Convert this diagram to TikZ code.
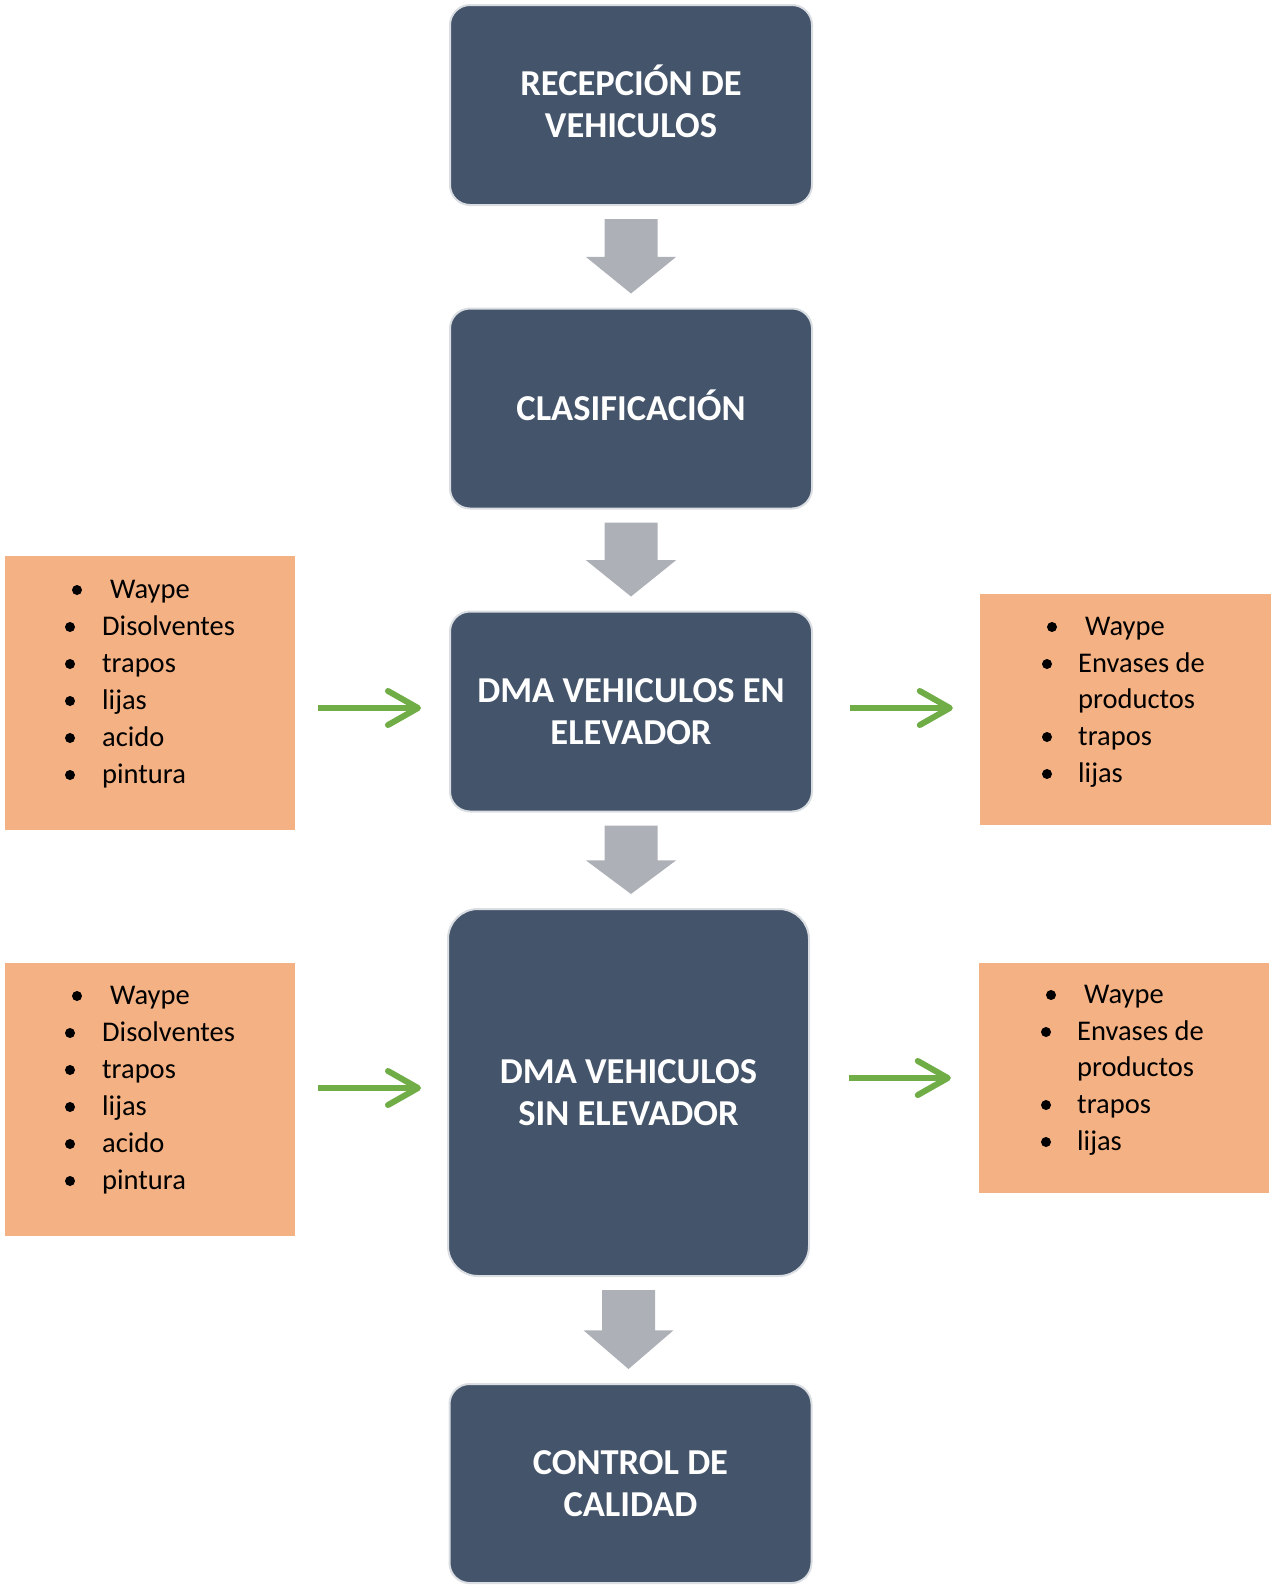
\documentclass[tikz,border=0pt]{standalone}
\usepackage{fontspec}
\setmainfont{Carlito}
\usetikzlibrary{arrows.meta,calc}
\definecolor{boxdark}{HTML}{44546A}
\definecolor{boxedge}{HTML}{DADDE2}
\definecolor{listorange}{HTML}{F4B183}
\definecolor{arrowgreen}{HTML}{70AD47}
\definecolor{arrowgray}{HTML}{ADB0B7}
\newcommand\blockarrowbetween[2]{%
  \fill[arrowgray] let \p1=($(#1.south)+(0,13)$), \p2=($(#2.north)+(0,-14)$),
    \p3=($(\p1)!0.51!(\p2)$) in
    (\x1-26.5pt,\y1) -- (\x1+26.5pt,\y1) -- (\x1+26.5pt,\y3) -- (\x1+45pt,\y3)
    -- (\x1,\y2) -- (\x1-45pt,\y3) -- (\x1-26.5pt,\y3) -- cycle;}
\newcommand\listitem[5]{%
  \fill (#2,#4-8) circle (5);
  \node[listtext] (#1) at (#3,#4) {#5};}
\begin{document}
\begin{tikzpicture}[x=1pt,y=-1pt,
  procbox/.style={rectangle, rounded corners=20pt, fill=boxdark, draw=boxedge,
    line width=2pt, text=white, font=\fontsize{36.5}{42}\selectfont\bfseries,
    align=center, minimum width=362pt, minimum height=200pt, inner sep=0pt},
  listbox/.style={rectangle, fill=listorange, inner sep=0pt},
  garrow/.style={draw=arrowgreen, line width=6pt,
    -{Straight Barb[length=30pt,width=34pt,round]}},
  listtext/.style={anchor=base west, inner sep=0pt, font=\fontsize{28.5}{31}\selectfont}
]
\useasboundingbox (0,0) rectangle (1273,1585);

% process boxes
\node[procbox, text depth=7pt] (b1) at (631,105) {RECEPCIÓN DE\\VEHICULOS};
\node[procbox, text depth=7pt] (b2) at (631,408.5) {CLASIFICACIÓN};
\node[procbox] (b3) at (631,711.5) {DMA VEHICULOS EN\\ELEVADOR};
\node[procbox, rounded corners=30pt, minimum width=361pt, minimum height=367pt] (b4) at (628.5,1092.5) {DMA VEHICULOS\\SIN ELEVADOR};
\node[procbox, minimum height=199pt] (b5) at (630.5,1483.5) {CONTROL DE\\CALIDAD};

% gray block arrows
\blockarrowbetween{b1}{b2}
\blockarrowbetween{b2}{b3}
\blockarrowbetween{b3}{b4}
\blockarrowbetween{b4}{b5}

% list boxes
\node[listbox, minimum width=290pt, minimum height=274pt] (ol1) at (150,693) {};
\node[listbox, minimum width=291pt, minimum height=231pt] (or1) at (1125.5,709.5) {};
\node[listbox, minimum width=290pt, minimum height=273pt] (ol2) at (150,1099.5) {};
\node[listbox, minimum width=290pt, minimum height=230pt] (or2) at (1124,1078) {};

% list contents
\listitem{l1a}{77}{110}{598}{Waype}
\listitem{l1b}{70}{102}{635}{Disolventes}
\listitem{l1c}{70}{102}{672}{trapos}
\listitem{l1d}{70}{102}{709}{lijas}
\listitem{l1e}{70}{102}{746}{acido}
\listitem{l1f}{70}{102}{783}{pintura}

\listitem{r1a}{1052}{1085}{635}{Waype}
\listitem{r1b}{1047}{1078}{672}{Envases de}
\node[listtext] (r1b2) at (1078,708) {productos};
\listitem{r1c}{1047}{1078}{745}{trapos}
\listitem{r1d}{1047}{1078}{782}{lijas}

\listitem{l2a}{77}{110}{1004}{Waype}
\listitem{l2b}{70}{102}{1041}{Disolventes}
\listitem{l2c}{70}{102}{1078}{trapos}
\listitem{l2d}{70}{102}{1115}{lijas}
\listitem{l2e}{70}{102}{1152}{acido}
\listitem{l2f}{70}{102}{1189}{pintura}

\listitem{r2a}{1051}{1084}{1003}{Waype}
\listitem{r2b}{1046}{1077}{1040}{Envases de}
\node[listtext] (r2b2) at (1077,1076) {productos};
\listitem{r2c}{1046}{1077}{1113}{trapos}
\listitem{r2d}{1046}{1077}{1150}{lijas}

% green arrows
\coordinate (g1) at (0,708);
\coordinate (g2) at (0,1088);
\coordinate (g3) at (0,1078);
\draw[garrow, shorten <=23pt, shorten >=28pt] (ol1.east |- g1) -- (g1 -| b3.west);
\draw[garrow, shorten <=37pt, shorten >=27pt] (b3.east |- g1) -- (g1 -| or1.west);
\draw[garrow, shorten <=23pt, shorten >=26pt] (ol2.east |- g2) -- (g2 -| b4.west);
\draw[garrow, shorten <=39pt, shorten >=28pt] (b4.east |- g3) -- (g3 -| or2.west);
\end{tikzpicture}
\end{document}
